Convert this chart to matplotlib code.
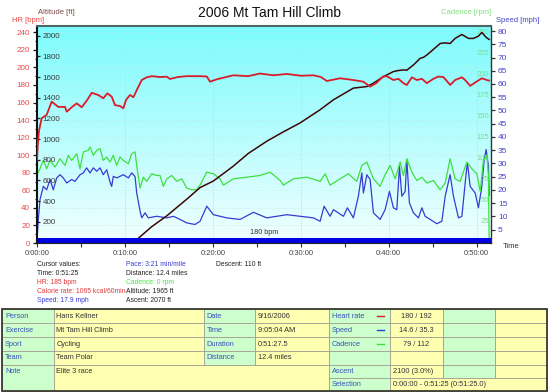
import matplotlib
matplotlib.use('Agg')
import matplotlib.pyplot as plt
import numpy as np
from matplotlib.ticker import MultipleLocator, FixedLocator, FixedFormatter
from matplotlib.patches import Rectangle
from matplotlib.lines import Line2D

plt.rcParams['font.family'] = ['Liberation Sans', 'DejaVu Sans']

# ---------------- data ----------------
title = "2006 Mt Tam Hill Climb"

hr_time = [0, 0.11, 0.23, 0.53, 1.10, 1.67, 2.42, 3.19, 3.38, 3.95, 4.52, 5.09, 5.72,
           6.22, 6.97, 7.54, 8.0, 8.5, 8.87, 9.44, 9.82, 10.13, 10.58, 10.96, 11.34,
           11.91, 12.48, 13.05, 14.0, 14.76, 15.13, 16.0, 17.03, 18.54, 19.31, 19.68,
           20.44, 21.5, 22.33, 24.0, 25.37, 26.88, 28.41, 30.0, 31.43, 32.3, 32.96,
           34.47, 35.98, 37.12, 37.88, 38.57, 39.36, 39.78, 40.53, 41.10, 41.67, 42.06,
           42.63, 43.20, 43.77, 44.34, 45.08, 45.65, 46.22, 46.99, 47.55, 48.32, 48.69,
           49.26, 50.02, 50.59, 51.16, 51.42]
hr_bpm = [95, 115, 128, 142, 146, 161, 155, 155, 149.5, 154.6, 159, 154.6, 163,
          171, 168.6, 164.8, 170.5, 166.6, 157, 156, 153.4, 163, 168.6, 166, 174,
          185.6, 188.7, 190, 189, 189.4, 186.8, 189, 190, 190, 189.6, 183.7,
          186.4, 189, 191, 190, 193, 191, 192.5, 190.5, 191, 189, 184.5,
          187.6, 185.6, 183.7, 178, 182, 189.6, 190, 185.6, 187, 182, 180,
          188.7, 185.6, 187, 182, 187, 189.6, 189, 180, 185.6, 188.7, 185.6,
          179, 184, 187.6, 185.6, 185]

alt_time = [0, 2, 4, 6, 8, 10, 11.0, 11.52, 13.0, 14.76, 17.03, 18.54, 20.06, 22.33,
            24.0, 26.13, 28.0, 29.92, 32.20, 33.71, 35.98, 37.51, 38.26, 39.40, 40.53,
            41.0, 41.67, 42.06, 42.81, 43.57, 43.95, 44.33, 45.08, 45.85, 46.42, 46.98,
            47.55, 48.32, 49.07, 49.64, 50.2, 50.59, 51.08, 51.42]
alt_ft = [10, 25, 15, 20, 30, 20, 15, 40, 150, 258, 419, 531, 595, 739,
          860, 980, 1070, 1157, 1285, 1381, 1494, 1509, 1542, 1605, 1654,
          1663, 1670, 1668, 1718, 1782, 1792, 1814, 1869, 1926, 1932, 1926,
          1975, 2013, 1975, 1975, 1997, 2033, 1985, 1965]

cad_time = [0.00, 0.34, 0.72, 1.10, 1.48, 2.05, 2.62, 3.19, 3.56, 3.95, 4.52, 4.89,
            5.27, 5.84, 6.03, 6.40, 6.79, 7.17, 7.54, 7.93, 8.30, 8.68, 9.07, 9.44,
            9.82, 10.39, 10.77, 11.15, 11.41, 11.72, 12.09, 12.48, 13.05, 13.62, 13.99,
            14.37, 14.76, 15.32, 15.89, 16.46, 17.03, 17.60, 18.17, 18.54, 19.31, 20.06,
            20.82, 21.19, 22.33, 23.86, 25.37, 26.51, 27.65, 28.02, 29.16, 30.68, 32.20,
            32.77, 33.33, 34.47, 35.41, 36.37, 36.94, 37.51, 38.26, 39.02, 39.59, 40.16,
            40.73, 41.30, 41.67, 42.06, 42.63, 43.20, 43.77, 44.34, 45.08, 45.85, 46.42,
            46.98, 47.55, 48.12, 48.88, 49.45, 50.02, 50.40, 50.77, 51.16, 51.34, 51.42]
cad_rpm = [80, 87, 97, 87, 97, 89, 99, 91, 103, 97, 105, 87,
           107, 109, 113, 103, 109, 111, 97, 101, 95, 103, 91, 101,
           97, 93, 105, 107, 85, 64, 77, 72, 81, 79, 79,
           66, 75, 79, 72, 75, 64, 62, 62, 67.5, 83, 81,
           75, 67.5, 75, 77, 79, 83, 73, 67.5, 75, 77, 72,
           81, 67.5, 75, 81, 72, 91, 95, 75, 66, 80, 91,
           75, 95, 79, 99, 83, 73, 77, 70, 73, 62, 70,
           99, 75, 72, 95, 87, 81, 60, 97, 103, 79, 0]

spd_time = [0, 0.15, 0.34, 0.53, 0.72, 1.10, 1.48, 1.85, 2.24, 2.62, 2.99, 3.38, 3.95,
            4.32, 4.89, 5.27, 5.65, 6.03, 6.40, 6.79, 7.17, 7.54, 7.93, 8.30, 8.49, 8.68,
            9.07, 9.82, 10.39, 10.77, 11.15, 11.34, 11.72, 11.91, 12.29, 12.66, 13.62,
            14.76, 15.51, 16.27, 17.03, 17.97, 18.54, 19.31, 20.06, 21.58, 23.09, 24.61,
            26.13, 28.41, 29.92, 31.43, 32.20, 32.65, 33.33, 33.71, 34.85, 35.30, 35.98,
            36.55, 36.94, 37.12, 37.51, 37.88, 38.26, 39.02, 39.59, 40.08, 40.53, 40.92,
            41.22, 41.49, 41.87, 42.06, 42.35, 42.81, 43.38, 43.77, 44.14, 44.71, 45.47,
            46.04, 46.42, 46.98, 47.36, 47.93, 48.32, 48.81, 48.95, 49.26, 49.83, 50.20,
            50.59, 50.85, 51.08, 51.34, 51.42]
spd_mph = [1.2, 8.8, 16.3, 18.8, 21.3, 20, 23.9, 20, 24.5, 25.7, 24.5, 22.6, 23.9,
           23.2, 25.7, 26.4, 28.3, 26.4, 28.3, 27, 28.3, 25.7, 27.6, 23, 21.3, 25.1,
           24.5, 25.7, 24.5, 26.4, 25, 18.8, 12, 9.4, 11.3, 9.4, 10,
           9.4, 10, 8.8, 7.5, 6.9, 8.1, 13.8, 10.6, 9.4, 8.8, 11.5,
           9.4, 10.6, 10, 9.4, 8.1, 13.8, 10, 12.5, 10, 13.2, 9.4,
           17.6, 26.4, 18.8, 25.7, 23.9, 11.3, 8.8, 12.5, 19.4, 13.2, 12.5,
           28.9, 17.6, 19.4, 31.4, 15.1, 11.3, 9.4, 13.2, 10, 8.8, 7.2,
           8.1, 17.6, 25.7, 17.6, 9.4, 10, 26.4, 30.2, 21.3, 18.8, 13.2,
           21.3, 31.4, 35.2, 28.9, 17.9]

hr_ticks = list(range(0, 241, 20))
alt_ticks = list(range(200, 2001, 200))
cad_ticks = list(range(25, 251, 25))
spd_ticks = list(range(5, 81, 5))
time_ticks = [0, 10, 20, 30, 40, 50]
time_labels = ['0:00:00', '0:10:00', '0:20:00', '0:30:00', '0:40:00', '0:50:00']

zone_label = '180 bpm'
zone_band = (0, 5.3)

cursor_col1 = [("Cursor values:", 'k'), ("Time: 0:51:25", 'k'), ("HR: 185 bpm", 'r'),
               ("Calorie rate: 1065 kcal/60min", 'r'), ("Speed: 17.9 mph", 'b')]
cursor_col2 = [("Pace: 3:21 min/mile", 'b'), ("Distance: 12.4 miles", 'k'),
               ("Cadence: 0 rpm", 'g'), ("Altitude: 1965 ft", 'k'), ("Ascent: 2070 ft", 'k')]
cursor_col3 = [("Descent: 110 ft", 'k')]

# ---------------- style ----------------
HR_C, HR_L = '#d91c2a', '#ea4a4a'
ALT_C, ALT_L, ALT_T = '#3c0606', '#3a3a3a', '#7a4848'
CAD_C, CAD_L = '#3ee03e', '#7ee07e'
SPD_C, SPD_L = '#3a3ad2', '#4646c8'
TXT = {'k': '#222222', 'r': '#e23a3a', 'b': '#3a3ad8', 'g': '#4ee04e'}
FS = 5.5
CFS = 4.85

W, H = 550, 392
fig = plt.figure(figsize=(W / 100, H / 100), dpi=100)


def rect(x0, y0, x1, y1):
    return [x0 / W, 1 - y1 / H, (x1 - x0) / W, (y1 - y0) / H]


L, R, T, B = 37, 491, 25.5, 243
XMAX = 51.63
HRMAX = 247.7

# background gradient + grid
bg = fig.add_axes(rect(L, T, R, B), zorder=-1)
top_c = np.array([124, 251, 252]) / 255
bot_c = np.array([242, 255, 255]) / 255
f = np.linspace(0, 1, 256)[:, None, None]
grad = top_c * (1 - f) + bot_c * f
bg.imshow(grad, extent=[0, XMAX, 0, HRMAX], aspect='auto', interpolation='bilinear')
bg.set_xlim(0, XMAX)
bg.set_ylim(0, HRMAX)
for t in time_ticks[1:]:
    bg.axvline(t, color='#c8dcdc', lw=0.7, ls=(0, (1, 1)))
for h in hr_ticks[1:]:
    bg.axhline(h, color='#c4e6e6', lw=0.5, ls=(0, (1, 1.5)))
bg.axis('off')

ax = fig.add_axes(rect(L, T, R, B))
ax.set_xlim(0, XMAX)
ax.set_ylim(0, HRMAX)
ax_spd = ax.twinx()
ax_cad = ax.twinx()
ax_alt = ax.twinx()
ax.set_zorder(10)
ax.patch.set_visible(False)

ax_spd.set_ylim(-0.1, 82.1)
ax_cad.set_ylim(-1.4, 257.6)
ax_alt.set_ylim(-5, 2100)

# lines
ax_spd.plot(spd_time, spd_mph, color=SPD_C, lw=0.9)
ax_cad.plot(cad_time, cad_rpm, color=CAD_C, lw=0.9)
ax_alt.plot(alt_time, alt_ft, color=ALT_C, lw=1.1)
ax.axhspan(zone_band[0], zone_band[1], color='#0000e0', zorder=2, lw=0)
ax.plot(hr_time, hr_bpm, color=HR_C, lw=1.3, zorder=3)
ax.text(0.5, 11.5, zone_label, transform=ax.get_yaxis_transform(),
        fontsize=5.2, color='#333333', ha='center', va='center', zorder=4)

# spines
for a in (ax_spd, ax_cad, ax_alt):
    for s in a.spines.values():
        s.set_visible(False)
ax_spd.spines['right'].set_visible(True)
ax_spd.spines['right'].set_color('#333333')
ax_spd.spines['right'].set_linewidth(1.0)
ax.spines['right'].set_visible(False)
ax.spines['left'].set_color('#111111')
ax.spines['left'].set_linewidth(1.5)
ax.spines['bottom'].set_color('#222222')
ax.spines['bottom'].set_linewidth(0.8)
ax.spines['top'].set_color('#4f6464')
ax.spines['top'].set_linewidth(1.5)

# x axis
ax.xaxis.set_major_locator(FixedLocator(time_ticks))
ax.xaxis.set_major_formatter(FixedFormatter(time_labels))
ax.xaxis.set_minor_locator(MultipleLocator(5))
ax.tick_params(axis='x', which='both', direction='out', length=3, width=0.8,
               color='#333333', labelsize=FS, labelcolor='#444444', pad=2)

# HR axis (left)
ax.yaxis.set_major_locator(FixedLocator(hr_ticks))
ax.yaxis.set_minor_locator(MultipleLocator(10))
ax.tick_params(axis='y', which='major', direction='out', length=3, width=0.9,
               color='#111111', labelsize=FS + 0.3, labelcolor=HR_L, pad=2)
ax.tick_params(axis='y', which='minor', direction='out', length=1.6, width=0.7, color='#111111')

# altitude axis (left, inside)
ax_alt.yaxis.tick_left()
ax_alt.yaxis.set_major_locator(FixedLocator(alt_ticks))
ax_alt.tick_params(axis='y', which='major', direction='in', length=2.5, width=0.9,
                   color='#222222', labelsize=FS + 0.3, labelcolor=ALT_L, pad=-4)
for lab in ax_alt.get_yticklabels():
    lab.set_horizontalalignment('left')

# cadence axis (right, inside)
ax_cad.yaxis.set_major_locator(FixedLocator(cad_ticks))
ax_cad.tick_params(axis='y', which='major', direction='in', length=0,
                   labelsize=FS, labelcolor=CAD_L, pad=-1.5)
for lab in ax_cad.get_yticklabels():
    lab.set_horizontalalignment('right')

# speed axis (right, outside)
ax_spd.yaxis.set_major_locator(FixedLocator(spd_ticks))
ax_spd.tick_params(axis='y', which='major', direction='out', length=3, width=0.9,
                   color='#333333', labelsize=FS + 0.5, labelcolor=SPD_L, pad=2)


def ft(x, y, s, **kw):
    fig.text(x / W, 1 - y / H, s, **kw)


# titles
ft(270, 13, title, fontsize=10, ha='center', va='center', color='#111111')
ft(37.5, 12, 'Altitude [ft]', fontsize=FS, ha='left', va='center', color=ALT_T)
ft(11.5, 20, 'HR [bpm]', fontsize=FS, ha='left', va='center', color=HR_L)
ft(491.5, 12, 'Cadence [rpm]', fontsize=FS, ha='right', va='center', color=CAD_L)
ft(495.5, 20, 'Speed [mph]', fontsize=FS, ha='left', va='center', color=SPD_L)
ft(503, 246.5, 'Time', fontsize=FS, ha='left', va='center', color='#333333')

# cursor values
ys = [264.3, 273.3, 282.5, 291.5, 300.3]
for (s, c), y in zip(cursor_col1, ys):
    ft(37, y, s, fontsize=CFS, ha='left', va='center', color=TXT[c])
for (s, c), y in zip(cursor_col2, ys):
    ft(126, y, s, fontsize=CFS, ha='left', va='center', color=TXT[c])
for (s, c), y in zip(cursor_col3, ys):
    ft(216, y, s, fontsize=CFS, ha='left', va='center', color=TXT[c])

# ---------------- table ----------------
tab = fig.add_axes([0, 0, 1, 1], zorder=20)
tab.set_xlim(0, W)
tab.set_ylim(H, 0)
tab.axis('off')
tab.patch.set_visible(False)

GN, YL = '#ccffcc', '#ffffb2'
LBL, VAL = '#3a52b8', '#333333'
cx = [2, 53.5, 203.5, 255, 328.5, 390, 442.5, 495, 547]
ry = [309, 323, 337, 351, 364.5, 378, 390.5]

# (c0, c1, r0, r1, color, text, textcolor, align)
cells = [
    (0, 1, 0, 1, GN, 'Person', LBL, 'l'), (1, 2, 0, 1, YL, 'Hans Kellner', VAL, 'l'),
    (2, 3, 0, 1, GN, 'Date', LBL, 'l'), (3, 4, 0, 1, YL, '9/16/2006', VAL, 'l'),
    (4, 5, 0, 1, GN, 'Heart rate', LBL, 'l'), (5, 6, 0, 1, YL, '180 / 192', VAL, 'c'),
    (6, 7, 0, 1, GN, '', VAL, 'l'), (7, 8, 0, 1, YL, '', VAL, 'l'),
    (0, 1, 1, 2, GN, 'Exercise', LBL, 'l'), (1, 2, 1, 2, YL, 'Mt Tam Hill Climb', VAL, 'l'),
    (2, 3, 1, 2, GN, 'Time', LBL, 'l'), (3, 4, 1, 2, YL, '9:05:04 AM', VAL, 'l'),
    (4, 5, 1, 2, GN, 'Speed', LBL, 'l'), (5, 6, 1, 2, YL, '14.6 / 35.3', VAL, 'c'),
    (6, 7, 1, 2, GN, '', VAL, 'l'), (7, 8, 1, 2, YL, '', VAL, 'l'),
    (0, 1, 2, 3, GN, 'Sport', LBL, 'l'), (1, 2, 2, 3, YL, 'Cycling', VAL, 'l'),
    (2, 3, 2, 3, GN, 'Duration', LBL, 'l'), (3, 4, 2, 3, YL, '0:51:27.5', VAL, 'l'),
    (4, 5, 2, 3, GN, 'Cadence', LBL, 'l'), (5, 6, 2, 3, YL, '79 / 112', VAL, 'c'),
    (6, 7, 2, 3, GN, '', VAL, 'l'), (7, 8, 2, 3, YL, '', VAL, 'l'),
    (0, 1, 3, 4, GN, 'Team', LBL, 'l'), (1, 2, 3, 4, YL, 'Team Polar', VAL, 'l'),
    (2, 3, 3, 4, GN, 'Distance', LBL, 'l'), (3, 4, 3, 4, YL, '12.4 miles', VAL, 'l'),
    (4, 5, 3, 4, GN, '', VAL, 'l'), (5, 6, 3, 4, YL, '', VAL, 'c'),
    (6, 7, 3, 4, GN, '', VAL, 'l'), (7, 8, 3, 4, YL, '', VAL, 'l'),
    (0, 1, 4, 6, GN, 'Note', LBL, 't'), (1, 4, 4, 6, YL, 'Elite 3 race', VAL, 't'),
    (4, 5, 4, 5, GN, 'Ascent', LBL, 'l'), (5, 6, 4, 5, YL, '2100 (3.0%)', VAL, 'l'),
    (6, 7, 4, 5, GN, '', VAL, 'l'), (7, 8, 4, 5, YL, '', VAL, 'l'),
    (4, 5, 5, 6, GN, 'Selection', LBL, 'l'),
    (5, 8, 5, 6, YL, '0:00:00 - 0:51:25 (0:51:25.0)', VAL, 'l'),
]
for c0, c1, r0, r1, col, s, tc, al in cells:
    x0, x1, y0, y1 = cx[c0], cx[c1], ry[r0], ry[r1]
    tab.add_patch(Rectangle((x0, y0), x1 - x0, y1 - y0, facecolor=col,
                            edgecolor='#a0a090', lw=0.6))
    if not s:
        continue
    if al == 'c':
        tab.text((x0 + x1) / 2, (y0 + y1) / 2, s, fontsize=5.3, color=tc, ha='center', va='center')
    elif al == 't':
        tab.text(x0 + 3, ry[r0] + 7, s, fontsize=5.3, color=tc, ha='left', va='center')
    else:
        tab.text(x0 + 3, (y0 + y1) / 2, s, fontsize=5.3, color=tc, ha='left', va='center')

legend_marks = [(0, HR_C), (1, SPD_C), (2, CAD_C)]
for r, c in legend_marks:
    yy = (ry[r] + ry[r + 1]) / 2
    tab.add_line(Line2D([377, 384], [yy, yy], color=c, lw=1.0))

tab.add_patch(Rectangle((cx[0], ry[0]), cx[-1] - cx[0], ry[-1] - ry[0], facecolor='none',
                        edgecolor='#3a3a30', lw=1.3))

fig.savefig('out.png', dpi=100)
